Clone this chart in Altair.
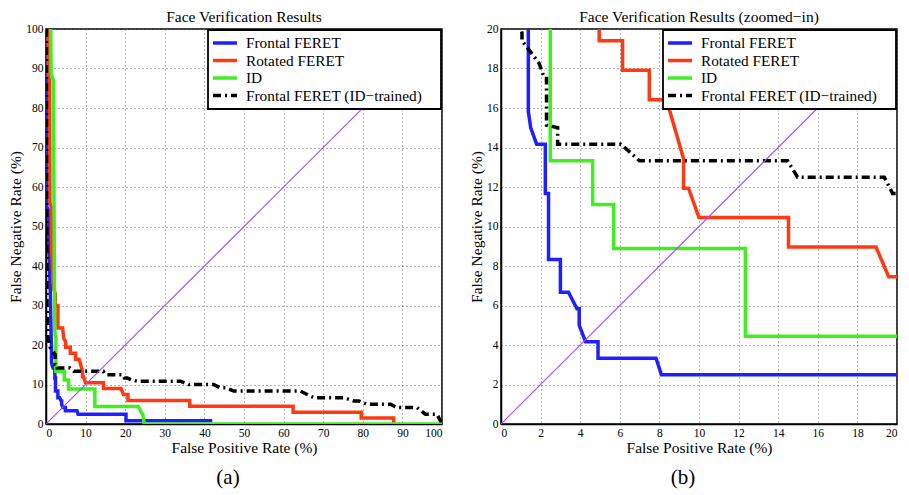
import altair as alt
import pandas as pd

FONT = "Liberation Serif, Times New Roman, DejaVu Serif, serif"

series_names = ["Frontal FERET", "Rotated FERET", "ID", "Frontal FERET (ID\u2212trained)"]
series_colors = ["#2020ff", "#ff3a12", "#40ee22", "#000000"]
series_dashes = [[1, 0], [1, 0], [1, 0], [8, 4, 2, 4]]

frontal_fpr = [0.15, 0.2, 0.65, 0.7, 0.9, 1.1, 1.3, 1.38, 1.38, 1.5, 1.8, 2.24, 2.24, 2.4, 2.4,
               3.0, 3.0, 3.41, 3.84, 3.95, 3.95, 4.27, 4.9, 4.9, 7.83, 8.1, 20.2, 20.2, 42.0]
frontal_fnr = [100, 55, 54, 45, 40, 33, 22, 20, 15.83, 15.0, 14.17, 14.17, 11.67, 11.67, 8.33,
               8.33, 6.67, 6.67, 5.83, 5.83, 5.0, 4.17, 4.17, 3.33, 3.33, 2.5, 2.5, 0.83, 0.83]

rotated_fpr = [0.5, 0.6, 0.9, 1.0, 1.3, 1.4, 1.6, 2.0, 2.35, 2.35, 3.0, 3.0, 4.2, 4.5, 4.96, 4.96,
               6.14, 6.14, 7.49, 7.49, 8.36, 9.22, 9.22, 9.47, 10.0, 14.52, 14.52, 18.94, 19.58,
               20.7, 20.7, 36.3, 36.3, 62.4, 62.4, 79.6, 79.6, 87.8, 87.8]
rotated_fnr = [100, 88, 87, 56, 55, 46, 40, 34, 33, 30, 30, 24.3, 24.3, 21.6, 20.9, 19.4,
               19.4, 17.91, 17.91, 16.42, 16.42, 13.43, 11.94, 11.94, 10.45, 10.45, 8.96, 8.96, 7.46,
               7.46, 5.97, 5.97, 4.48, 4.48, 2.99, 2.99, 1.49, 1.49, 0.0]

id_fpr = [1.2, 1.3, 1.9, 2.0, 2.1, 2.2, 2.3, 2.49, 2.49, 4.63, 4.63, 5.69, 5.69, 12.34, 12.34,
          23.3, 24.5, 24.8, 100.0]
id_fnr = [100, 88.5, 87, 60, 40, 25, 22.6, 22, 13.33, 13.33, 11.11, 11.11, 8.89, 8.89, 4.44,
          4.44, 2.2, 0.0, 0.0]

idtrained_fpr = [0.1, 0.15, 0.25, 0.35, 0.5, 0.8, 1.06, 1.06, 1.6, 1.93, 2.19, 2.3, 2.3, 2.86, 2.86,
                 6.06, 6.99, 14.47, 14.98, 19.36, 19.78, 20.5, 21.5, 23.0, 34.0, 36.0, 42.3, 44.0,
                 45.5, 47.4, 64.2, 67.6, 75.2, 77.7, 79.0, 81.0, 87.0, 88.6, 93.7, 95.8, 98.7, 99.6, 100.0]
idtrained_fnr = [100, 60, 31, 26, 22, 20.5, 19.8, 19.4, 18.7, 18.25, 17.5, 17.5, 15.13, 15.0, 14.17,
                 14.17, 13.33, 13.33, 12.5, 12.5, 11.67, 11.67, 11.2, 10.83, 10.83, 10.0, 10.0, 9.17,
                 9.17, 8.33, 8.33, 6.67, 6.67, 5.83, 5.83, 5.0, 5.0, 4.17, 4.17, 2.5, 2.5, 0.83, 0.83]

diag_x = [0, 100]
diag_y = [0, 100]

rows = []
for name, xs, ys in [(series_names[0], frontal_fpr, frontal_fnr),
                     (series_names[1], rotated_fpr, rotated_fnr),
                     (series_names[2], id_fpr, id_fnr),
                     (series_names[3], idtrained_fpr, idtrained_fnr)]:
    for i, (a, b) in enumerate(zip(xs, ys)):
        rows.append({"series": name, "fpr": a, "fnr": b, "idx": i})
curves = pd.DataFrame(rows)
diag = pd.DataFrame({"fpr": diag_x, "fnr": diag_y, "idx": [0, 1]})

W, H = 396, 395


def panel(vmax, step, title, caption):
    ticks = list(range(0, vmax + 1, step))
    xs = alt.Scale(domain=[0, vmax], nice=False, zero=False)
    ys = alt.Scale(domain=[0, vmax], nice=False, zero=False)

    def xax():
        return alt.Axis(values=ticks, tickCount=len(ticks), title="False Positive Rate (%)",
                        format="d", labelOverlap=False, labelSeparation=0)

    def yax():
        return alt.Axis(values=ticks, tickCount=len(ticks), title="False Negative Rate (%)",
                        format="d", labelOverlap=False, labelSeparation=0)

    lines = alt.Chart(curves).mark_line(strokeWidth=3.5, clip=True).encode(
        x=alt.X("fpr:Q", scale=xs, axis=xax()),
        y=alt.Y("fnr:Q", scale=ys, axis=yax()),
        order="idx:Q",
        color=alt.Color("series:N", sort=series_names,
                        scale=alt.Scale(domain=series_names, range=series_colors),
                        legend=alt.Legend(title=" ")),
        strokeDash=alt.StrokeDash("series:N", sort=series_names,
                                  scale=alt.Scale(domain=series_names, range=series_dashes),
                                  legend=alt.Legend(title=" ")),
    )
    dline = alt.Chart(diag).mark_line(strokeWidth=1.2, color="#a84cff", clip=True).encode(
        x=alt.X("fpr:Q", scale=xs, axis=xax()), y=alt.Y("fnr:Q", scale=ys, axis=yax()),
        order="idx:Q")
    cap = alt.Chart(pd.DataFrame({"t": [caption]})).mark_text(
        font=FONT, fontSize=21, baseline="middle", align="center", color="black").encode(
        text="t:N", x=alt.value(182), y=alt.value(449))
    return alt.layer(lines, dline, cap).properties(
        width=W, height=H,
        title=alt.TitleParams(title, font=FONT, fontSize=15.5, fontWeight="normal", offset=-2, color="black"))


left = panel(100, 10, "Face Verification Results", "(a)")
right = panel(20, 2, "Face Verification Results (zoomed\u2212in)", "(b)")

chart = alt.hconcat(left, right, spacing=25).resolve_legend(
    color="independent", strokeDash="independent"
).properties(padding=0).configure_view(
    stroke="black", strokeWidth=1.5
).configure_axis(
    labelFont=FONT, titleFont=FONT, labelFontSize=11.5, titleFontSize=15.5,
    titleFontWeight="normal", labelColor="black", titleColor="black",
    domainColor="black", domainWidth=1.5, ticks=False, labelPadding=3, titlePadding=2,
    labelOverlap=False,
    grid=True, gridColor="#666", gridDash=[1, 3], gridWidth=1, gridOpacity=1,
).configure_legend(
    orient="top-right", offset=1, fillColor="white", strokeColor="black", strokeWidth=1.8,
    padding=5, labelFont=FONT, labelFontSize=15.3, labelColor="black", labelLimit=400,
    titleOrient="right", titlePadding=14, titleFont=FONT, titleFontSize=15,
    symbolType="M-2,0L2,0", symbolStrokeWidth=3.5, symbolSize=144, symbolOffset=4,
    rowPadding=0.5, labelOffset=13,
)

chart.save("out.html", embed_options={"renderer": "svg", "actions": False})
